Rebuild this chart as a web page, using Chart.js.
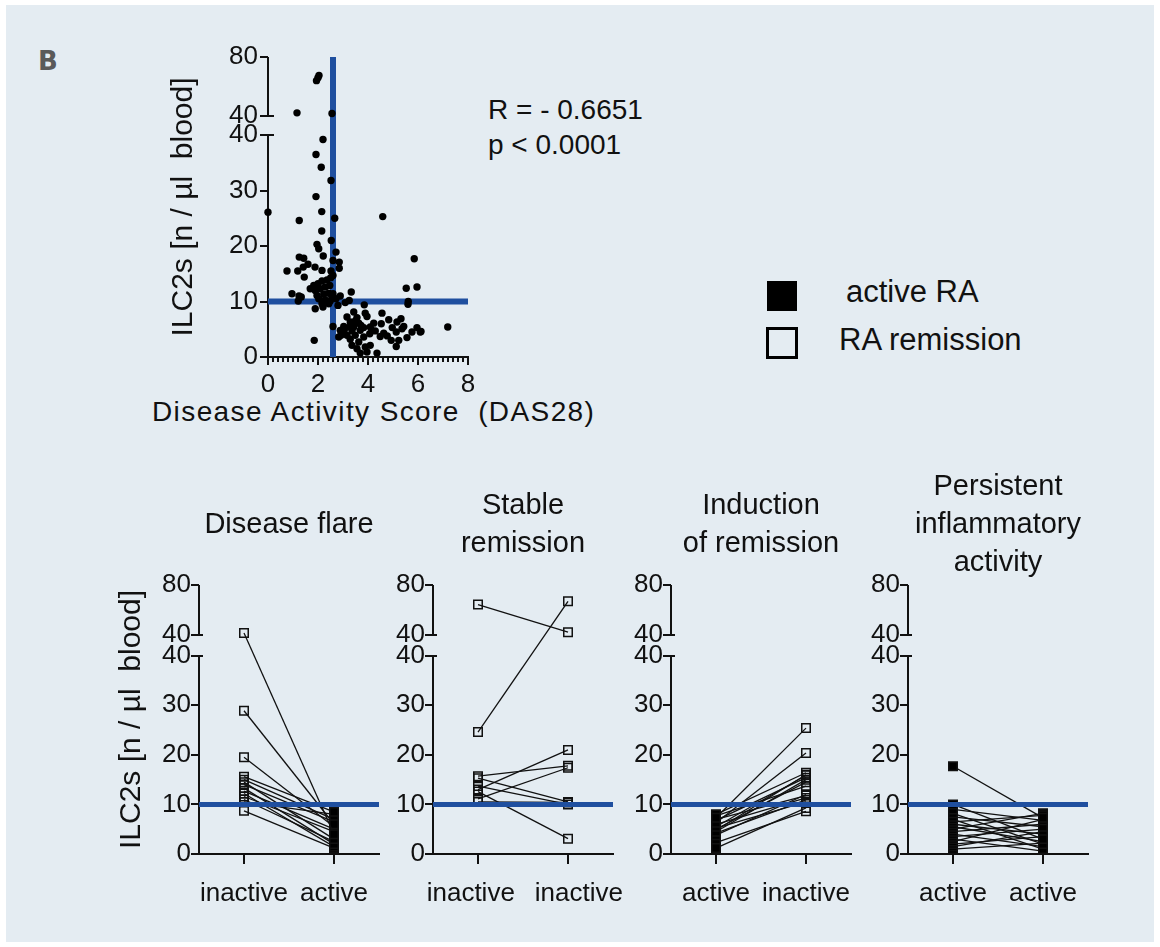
<!DOCTYPE html>
<html>
<head>
<meta charset="utf-8">
<script src="https://cdn.jsdelivr.net/npm/chart.js@4.4.0/dist/chart.umd.min.js"></script>
<style>
  body { margin: 0; background: #fff; }
  #page { position: relative; width: 1160px; height: 947px; overflow: hidden; }
  #bg { position: absolute; left: 6px; top: 5px; width: 1148px; height: 937px; background: #e4ecf2; }
  canvas { position: absolute; }
  .txt { position: absolute; font-family: 'Liberation Sans', Arial, sans-serif; color: #111; white-space: pre; }
  #tag { left: 38px; top: 48px; font-family: 'DejaVu Sans', sans-serif; font-size: 26px; line-height: 26px; font-weight: bold; color: #5a5a5a; }
  #stats { left: 488px; top: 92px; font-size: 28px; line-height: 35px; }
  #xTitle { left: 152px; top: 397px; font-size: 28px; line-height: 30px; letter-spacing: 1.4px; }
  .key { position: absolute; box-sizing: border-box; }
  #keyActive { left: 767px; top: 281px; width: 30px; height: 30px; background: #000; }
  #keyRemission { left: 766px; top: 327px; width: 32px; height: 32px; border: 3px solid #000; }
  #lblActive { left: 846px; top: 277px; font-size: 31px; line-height: 30px; }
  #lblRemission { left: 839px; top: 325px; font-size: 31px; line-height: 30px; }
</style>
</head>
<body>
<div id="page">
  <div id="bg"></div>
  <div class="txt" id="tag">B</div>
  <div class="txt" id="stats">R = - 0.6651
p &lt; 0.0001</div>
  <div class="txt" id="xTitle">Disease Activity Score  (DAS28)</div>
  <div class="key" id="keyActive"></div>
  <div class="key" id="keyRemission"></div>
  <div class="txt" id="lblActive">active RA</div>
  <div class="txt" id="lblRemission">RA remission</div>
  <canvas id="scatter" width="340" height="410" style="left:150px;top:30px"></canvas>
  <canvas id="p0" width="302" height="470"></canvas>
  <canvas id="p1" width="302" height="470"></canvas>
  <canvas id="p2" width="302" height="470"></canvas>
  <canvas id="p3" width="302" height="470"></canvas>
</div>
<script>
// DAS28 vs ILC2 count, one value pair per patient
const dasScores = [
  1.94, 2.0, 2.04, 1.16, 2.56,
  0, 1.25, 1.92, 2.2, 2.13, 2.52, 1.92, 2.15, 2.67, 2.15, 2.53, 4.59, 1.96, 2.03, 2.21, 2.72,
  1.25, 1.43, 2.6, 2.85, 1.6, 1.41, 1.88, 0.76, 1.19, 2.16, 2.52, 2.85, 1.45, 5.85, 5.53, 5.96,
  5.61, 5.6, 0.96, 1.24, 1.33, 1.21,
  1.69, 1.83, 2.0, 2.16, 2.36, 2.51, 2.6, 1.89, 2.09, 2.29, 2.47, 1.96, 2.23, 2.43, 2.6, 2.03,
  2.29, 2.49, 2.16, 1.89, 2.2, 2.43, 2.56, 2.72, 2.89, 2.8, 2.6, 1.85,
  3.33, 3.25, 3.09, 3.85, 3.43, 3.89, 4.56, 3.16, 3.56, 3.96, 4.83, 5.32, 5.16, 3.29, 3.63, 4.23,
  4.53, 3.03, 3.43, 3.83, 4.09, 5.43, 3.05, 3.36, 3.69, 4.29, 4.63, 5.13, 5.76, 6.09, 7.19, 5.36,
  3.16, 3.49, 3.83, 4.07, 4.49, 5.56, 4.93, 5.23, 3.29, 3.63, 4.09, 5.13, 3.36, 3.56, 3.89, 3.96,
  4.36, 3.69, 2.89, 2.83, 2.92, 3.27, 3.49, 3.72, 4.16, 4.77, 4.97, 5.96, 6.12
];
const ilc2Counts = [
  64.0, 66.0, 67.5, 42.2, 41.8,
  26.1, 24.6, 36.5, 39.2, 34.2, 31.8, 28.9, 26.2, 25.0, 22.7, 21.0, 25.3, 20.3, 19.5, 18.2, 18.9,
  18.0, 17.8, 17.4, 17.1, 16.7, 16.2, 16.2, 15.5, 15.5, 15.6, 15.5, 16.0, 14.4, 17.7, 12.4, 12.6,
  10.0, 9.5, 11.4, 11.0, 10.8, 10.1,
  12.3, 12.9, 13.2, 13.7, 13.9, 14.3, 14.7, 12.0, 12.3, 12.6, 12.9, 11.1, 11.3, 11.5, 11.4, 10.5,
  10.3, 10.1, 9.6, 8.7, 9.0, 9.6, 10.7, 10.5, 11.0, 9.3, 5.5, 3.0,
  11.7, 10.2, 9.8, 9.4, 8.1, 7.9, 7.9, 7.2, 7.1, 7.3, 6.7, 6.9, 6.3, 6.3, 6.1, 6.1,
  6.0, 5.5, 5.4, 5.3, 5.4, 5.5, 4.8, 4.7, 4.8, 4.7, 4.3, 4.5, 4.5, 4.5, 5.4, 5.1,
  3.9, 3.9, 3.6, 4.2, 3.7, 3.5, 3.0, 3.0, 3.2, 2.7, 2.1, 1.9, 2.1, 1.5, 1.8, 0.9,
  0.7, 0.7, 4.8, 3.6, 3.9, 5.4, 6.5, 5.7, 4.8, 3.8, 5.3, 5.3, 4.6
];
const dasTicks = [0, 2, 4, 6, 8];
const ilcTicks = [0, 10, 20, 30, 40, 40.001, 80];   // 40.001 = foot of the upper segment
const ilcTickLabels = ['0', '10', '20', '30', '40', '40', '80'];
const cutIlc = 10;
const cutDas = 2.6;

// paired samples, one line per patient
const flareInactive = [41.5, 28.9, 19.5, 15.6, 15.0, 14.5, 14.0, 13.3, 12.7, 12.2, 11.6, 11.0, 10.5, 8.7];
const flareActive = [4.0, 6.0, 5.5, 8.5, 7.0, 3.0, 6.5, 2.0, 5.0, 1.5, 4.5, 2.5, 8.0, 1.2];
const stableFirst = [64.3, 24.6, 13.0, 15.7, 11.1, 15.3, 13.7, 12.6, 10.5];
const stableSecond = [42.1, 66.9, 21.0, 17.8, 17.4, 10.5, 10.0, 3.1, 10.4];
const inductionActive = [7.3, 6.3, 8.0, 5.5, 6.8, 4.5, 5.0, 7.7, 3.8, 6.0, 4.2, 5.2, 1.2, 2.3, 4.8, 7.0];
const inductionInactive = [25.4, 20.4, 16.4, 15.9, 15.4, 15.0, 14.5, 13.7, 12.0, 11.3, 10.9, 10.5, 9.3, 8.6, 16.0, 11.8];
const persistentFirst = [17.7, 10.0, 9.0, 8.2, 7.5, 7.0, 6.5, 6.0, 5.5, 5.0, 4.5, 4.0, 3.5, 3.0, 2.5, 2.0, 1.5, 1.0];
const persistentSecond = [7.3, 3.0, 6.8, 2.0, 5.5, 1.0, 7.8, 4.0, 2.5, 8.2, 6.0, 1.5, 5.0, 0.6, 7.0, 3.5, 4.5, 2.2];

const panelTitles = [['Disease flare'], ['Stable', 'remission'], ['Induction', 'of remission'], ['Persistent', 'inflammatory', 'activity']];
const panelVisits = [['inactive', 'active'], ['inactive', 'inactive'], ['active', 'inactive'], ['active', 'active']];
const panelBefore = [flareInactive, stableFirst, inductionActive, persistentFirst];
const panelAfter = [flareActive, stableSecond, inductionInactive, persistentSecond];
const panelAxisX = [199, 433, 671, 908];

const blue = '#1f4f9f';
const ink = '#111';
const yTitle = 'ILC2s [n / \u00b5l  blood]';

Chart.defaults.font.family = "'Liberation Sans', Arial, sans-serif";
Chart.defaults.color = ink;
Chart.defaults.animation = false;
Chart.defaults.plugins.legend.display = false;
Chart.defaults.plugins.tooltip.enabled = false;

// linear axis with a break: 0-40 in the lower part, 40-80 squeezed above a gap
class BrokenScale extends Chart.LinearScale {
  static id = 'broken';
  static defaults = {};
  segments() {
    const h = this.bottom - this.top;
    const low = h * this.options.lowFrac;
    const gap = h * this.options.gapFrac;
    return { low, gap, up: h - low - gap };
  }
  getPixelForValue(value) {
    const s = this.segments();
    const brk = this.options.breakAt;
    if (value <= brk) return this.bottom - (value - this.min) / (brk - this.min) * s.low;
    return this.top + s.up - (value - brk) / (this.max - brk) * s.up;
  }
  getValueForPixel(pixel) {
    const s = this.segments();
    const brk = this.options.breakAt;
    if (pixel >= this.bottom - s.low) return this.min + (this.bottom - pixel) / s.low * (brk - this.min);
    return brk + (this.top + s.up - pixel) / s.up * (this.max - brk);
  }
}
Chart.register(BrokenScale);

// the y axis line is drawn as the first x grid line, dashed to leave the break open
function axisLineDash(ctx) {
  const y = ctx.chart.scales.y;
  const h = y.bottom - y.top;
  const gap = h * y.options.gapFrac;
  const up = h - h * y.options.lowFrac - gap;
  return [up, gap, h * 2];
}
const isBreakTick = (ctx) => ctx.tick && ctx.tick.value >= 40 && ctx.tick.value < 41;

function brokenY(opts) {
  return {
    type: 'broken', min: 0, max: 80, breakAt: 40,
    lowFrac: opts.lowFrac, gapFrac: opts.gapFrac,
    afterBuildTicks: (s) => { s.ticks = ilcTicks.map(v => ({ value: v })); },
    afterFit: (s) => { s.width = opts.width; },
    ticks: { autoSkip: false, padding: opts.labelPad, font: { size: 26 }, color: ink,
      callback: (v, i) => ilcTickLabels[i] },
    grid: { drawOnChartArea: true, lineWidth: 2, color: (c) => isBreakTick(c) ? ink : 'transparent',
      tickLength: 8, tickWidth: 2, tickColor: ink },
    border: { display: false, dash: [opts.notch, 3000] },
    title: { display: opts.showTitle, text: yTitle, font: { size: 30 }, color: ink,
      padding: { top: opts.titlePad, bottom: 0 } }
  };
}

// fixed axis height, and no extra side padding for the end labels
const fixX = (h) => (s) => { s.height = h; s.paddingLeft = 0; s.paddingRight = 0; };

// ---------- scatter ----------
const dasMinorTicks = [];
for (let i = 0; i <= 40; i++) dasMinorTicks.push(i / 5);
const isMajor = (v) => dasTicks.some(t => Math.abs(t - v) < 1e-6);

new Chart(document.getElementById('scatter'), {
  type: 'scatter',
  data: {
    datasets: [
      { data: dasScores.map((x, i) => ({ x, y: ilc2Counts[i] })), backgroundColor: '#000',
        borderWidth: 0, pointRadius: 3.7, clip: false },
      { type: 'line', data: [{ x: cutDas, y: 0 }, { x: cutDas, y: 80 }], borderColor: blue,
        borderWidth: 6, pointRadius: 0 },
      { type: 'line', data: [{ x: 0, y: cutIlc }, { x: 8, y: cutIlc }], borderColor: blue,
        borderWidth: 6, pointRadius: 0 }
    ]
  },
  options: {
    responsive: false,
    layout: { padding: { top: 27, right: 22, bottom: 0, left: 0 } },
    scales: {
      x: {
        type: 'linear', min: 0, max: 8,
        afterBuildTicks: (s) => { s.ticks = dasMinorTicks.map(v => ({ value: v })); },
        afterFit: fixX(83),
        ticks: { autoSkip: false, maxRotation: 0, padding: 4, font: { size: 26 }, color: ink,
          callback: (v) => isMajor(v) ? String(Math.round(v)) : '' },
        grid: { drawOnChartArea: true, lineWidth: 2, color: (c) => c.index === 0 ? ink : 'transparent',
          tickLength: 8, tickWidth: 2, tickColor: ink,
          tickBorderDash: (c) => isMajor(c.tick.value) ? [] : [4, 40] },
        border: { display: true, width: 2, color: ink, dash: axisLineDash }
      },
      y: brokenY({ lowFrac: 0.74, gapFrac: 0.063, width: 118, labelPad: 2, notch: 6, showTitle: true, titlePad: 16 })
    }
  }
});

// ---------- paired panels ----------
const visitTicks = [-0.5, 0, 1];   // -0.5 = left edge, carries the y axis line
// the two "inactive" labels of the stable panel are nudged apart, as in the figure
const labelNudge = [['', ''], ['  ', '   '], ['', ''], ['', '']];

panelTitles.forEach((title, p) => {
  const canvas = document.getElementById('p' + p);
  canvas.style.left = (panelAxisX[p] - 100) + 'px';
  canvas.style.top = '460px';
  const visits = panelVisits[p];
  const n = title.length;
  const lh = 29 * 1.3;
  const pairs = panelBefore[p].map((b, i) => ({
    data: [{ x: 0, y: b }, { x: 1, y: panelAfter[p][i] }],
    borderColor: ink, borderWidth: 1.3,
    pointStyle: 'rect', pointRadius: 6, pointBorderWidth: 1.5, pointBorderColor: ink,
    pointBackgroundColor: visits.map(v => v === 'active' ? '#000' : 'transparent')
  }));
  new Chart(canvas, {
    type: 'line',
    data: {
      datasets: [
        { data: [{ x: -0.5, y: cutIlc }, { x: 1.5, y: cutIlc }], borderColor: blue, borderWidth: 5, pointRadius: 0 }
      ].concat(pairs)
    },
    options: {
      responsive: false,
      layout: { padding: { top: 0, right: 22, bottom: 0, left: 0 } },
      plugins: {
        title: { display: true, text: title, fullSize: false, color: ink,
          font: { size: 29, weight: 'normal', lineHeight: 1.3 },
          padding: { top: 65 - n * lh / 2, bottom: 60 - n * lh / 2 } }
      },
      scales: {
        x: {
          type: 'linear', min: -0.5, max: 1.5,
          afterBuildTicks: (s) => { s.ticks = visitTicks.map(v => ({ value: v })); },
          afterFit: fixX(76),
          ticks: { autoSkip: false, maxRotation: 0, padding: 14, font: { size: 26 }, color: ink,
            callback: (v, i) => i === 0 ? '' : (i === 1 ? visits[0] + labelNudge[p][0] : labelNudge[p][1] + visits[1]) },
          grid: { drawOnChartArea: true, lineWidth: 2, color: (c) => c.index === 0 ? ink : 'transparent',
            tickLength: 10, tickWidth: 2, tickColor: (c) => c.index === 0 ? 'transparent' : ink },
          border: { display: true, width: 2, color: ink, dash: axisLineDash }
        },
        y: brokenY({ lowFrac: 0.737, gapFrac: 0.078, width: 100, labelPad: 0, notch: 4, showTitle: p === 0, titlePad: 15 })
      }
    }
  });
});
</script>
</body>
</html>
